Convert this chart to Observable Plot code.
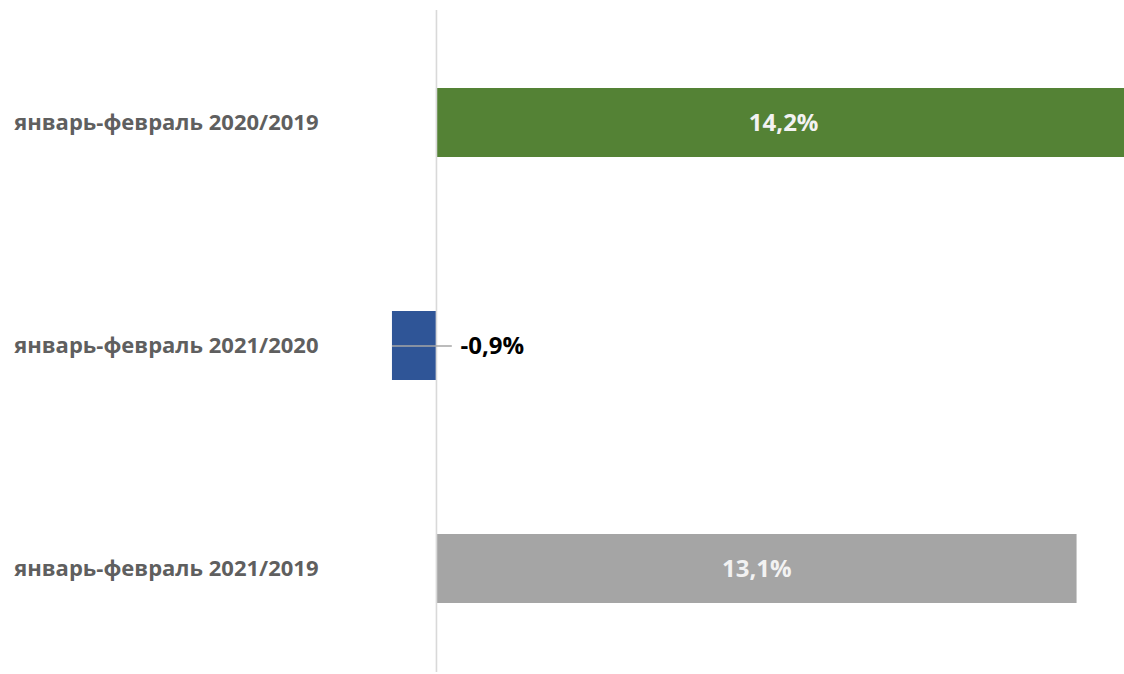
<!DOCTYPE html>
<html>
<head>
<meta charset="utf-8">
<script src="https://cdn.jsdelivr.net/npm/d3@7"></script>
<script src="https://cdn.jsdelivr.net/npm/@observablehq/plot@0.6"></script>
<style>
  html, body { margin: 0; padding: 0; background: #fff; }
  #chart svg { display: block; }
</style>
</head>
<body>
<div id="chart"></div>
<script>
const categories = ["январь-февраль 2020/2019", "январь-февраль 2021/2020", "январь-февраль 2021/2019"];
const values = [14.2, -0.9, 13.1];
const labels = ["14,2%", "-0,9%", "13,1%"];
const colors = ["#548235", "#2f5597", "#a5a5a5"];

const data = categories.map((c, i) => ({cat: c, value: values[i], label: labels[i], color: colors[i]}));
const pos = data.filter(d => d.value >= 0);
const neg = data.filter(d => d.value < 0);

const fontFamily = "'Open Sans', sans-serif";

const chart = Plot.plot({
  width: 1124,
  height: 674,
  marginLeft: 390,
  marginRight: 0,
  marginTop: 10,
  marginBottom: 2,
  style: {fontFamily, background: "#fff"},
  x: {domain: [-0.94, 14.07], axis: null},
  y: {domain: categories, range: [11.5, 680.5], paddingInner: 0.69, paddingOuter: 0.345, axis: null},
  marks: [
    Plot.barX(data, {y: "cat", x: "value", fill: d => d.color}),
    Plot.ruleX([0], {stroke: "#d9d9d9", strokeWidth: 1.6}),
    Plot.ruleY(neg, {y: "cat", x1: "value", x2: d => -d.value * 0.36, stroke: "#a6a6a6", strokeWidth: 1.5}),
    Plot.text(pos, {y: "cat", x: d => d.value / 2, text: "label", fill: "#f2f2f2", fontSize: 24, fontWeight: 700}),
    Plot.text(neg, {y: "cat", x: 0, text: "label", textAnchor: "start", dx: 24, fill: "#000", fontSize: 24, fontWeight: 700}),
    Plot.text(data, {y: "cat", text: "cat", frameAnchor: "left", textAnchor: "end", dx: -72, fill: "#5f5f5f", fontSize: 22, fontWeight: 700})
  ]
});
document.getElementById("chart").appendChild(chart);
</script>
</body>
</html>
